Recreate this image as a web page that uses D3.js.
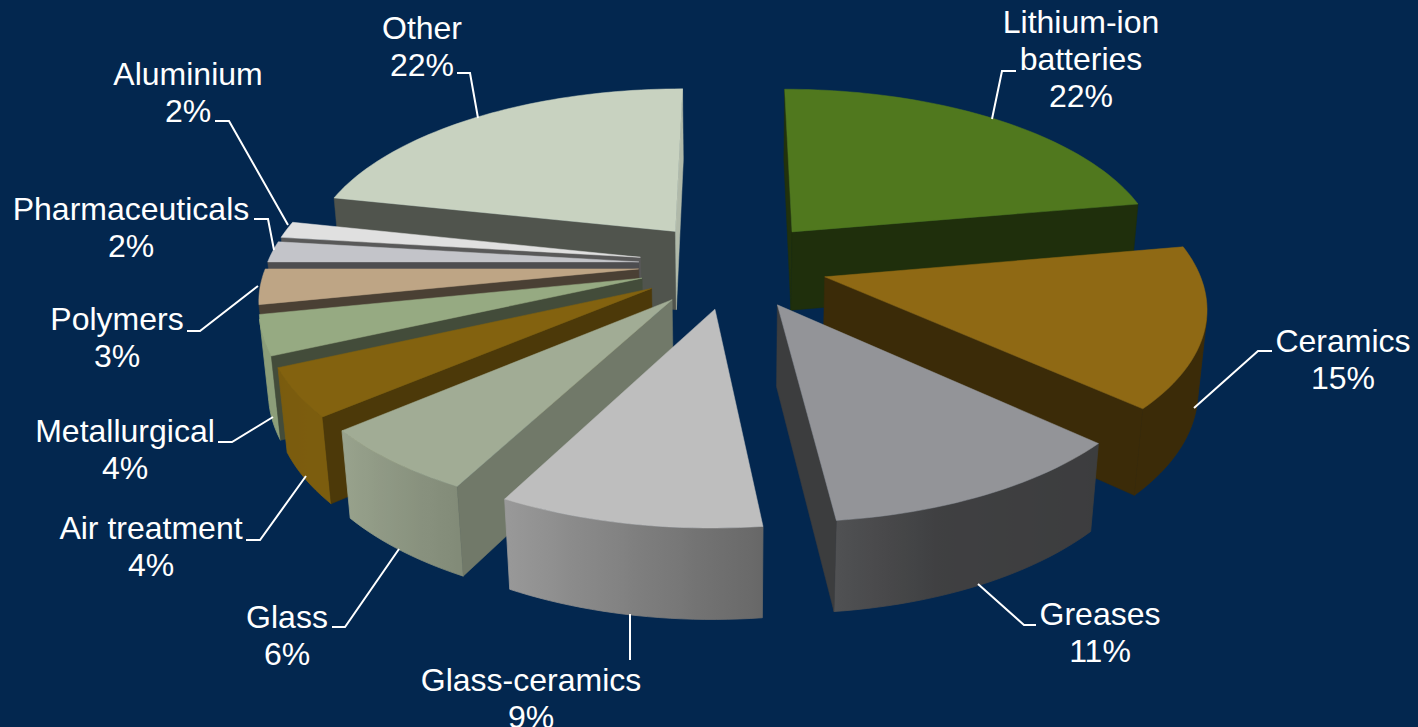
<!DOCTYPE html>
<html><head><meta charset="utf-8">
<script src="https://cdn.jsdelivr.net/npm/d3@7"></script>
<style>html,body{margin:0;padding:0;background:#03274f;overflow:hidden}svg{display:block}text{font-family:"Liberation Sans",Arial,sans-serif;fill:#fff}</style>
</head><body><svg id="c" width="1418" height="727"></svg>
<script>
const categories=["Lithium-ion batteries","Ceramics","Greases","Glass-ceramics","Glass","Air treatment","Metallurgical","Polymers","Pharmaceuticals","Aluminium","Other"];
const shares=[22.2,14.6,11.4,9.5,6.1,4.4,3.6,3.2,1.9,1.5,21.6];
const topColors=["#50781e","#8f6914","#939498","#bebebe","#a1ac95","#83620f","#96aa82","#bea585","#c3c4c9","#e0e0e0","#c8d2c0"];

// label layout: text lines with centre x / first-line y, and the leader polyline
const labelLayout=[
 {lines:["Lithium-ion","batteries","22%"],x:1081,y:22,leader:[[1016,71],[1002,71],[992,119]]},
 {lines:["Ceramics","15%"],x:1343,y:341,leader:[[1272,351],[1258,351],[1194,408]]},
 {lines:["Greases","11%"],x:1100,y:614,leader:[[1036,625],[1024,625],[978,584]]},
 {lines:["Glass-ceramics","9%"],x:531,y:680,leader:[[630,660],[630,614]]},
 {lines:["Glass","6%"],x:287,y:617,leader:[[332,627],[345,627],[399,549]]},
 {lines:["Air treatment","4%"],x:151,y:528,leader:[[246,540],[260,540],[306,476]]},
 {lines:["Metallurgical","4%"],x:125,y:431,leader:[[218,442],[232,442],[273,417]]},
 {lines:["Polymers","3%"],x:117,y:319,leader:[[187,331],[200,331],[258,286]]},
 {lines:["Pharmaceuticals","2%"],x:131,y:209,leader:[[254,219],[268,219],[274,250]]},
 {lines:["Aluminium","2%"],x:188,y:74,leader:[[215,121],[229,121],[288,225]]},
 {lines:["Other","22%"],x:422,y:28,leader:[[457,73],[470,73],[478,118]]}
];

// camera
const cx=733, cy=264.5, R=372, tilt=27.6*Math.PI/180, persp=0.165, thick=0.247, explode=0.254;
const sx=d3.scaleLinear().domain([0,1]).range([cx,cx+R]);
const sy=d3.scaleLinear().domain([0,1]).range([cy,cy+R]);
function project(p){ // p=[x,forward,z]
  const depth=p[1]*Math.cos(tilt)+p[2]*Math.sin(tilt);
  const s=1/(1-persp*depth);
  return [sx(p[0]*s), sy((p[1]*Math.sin(tilt)-p[2]*Math.cos(tilt))*s)];
}
// brightness of the curved wall by compass angle (deg), of flat cut faces by their normal
const wallShade=d3.scaleLinear().domain([79,133,160,173,208,230,246,300]).range([.41,.41,.43,.54,.81,.95,.93,.95]).clamp(true);
const faceShade=d3.scaleLinear().domain([90,118,140,156,168,223,270]).range([.88,.70,.58,.44,.39,.41,.41]).clamp(true);
const shade=(c,f)=>{const q=d3.rgb(c);return d3.rgb(q.r*f,q.g*f,q.b*f).formatHex();};

const arcs=d3.pie().sort(null).startAngle(0).endAngle(2*Math.PI)(shares);
const slices=arcs.map((a,i)=>{
  const mid=(a.startAngle+a.endAngle)/2;
  return {i,a0:a.startAngle,a1:a.endAngle,ox:explode*Math.sin(mid),oy:-explode*Math.cos(mid)};
}).sort((u,v)=>u.oy-v.oy);

const svg=d3.select("#c");
const defs=svg.append("defs");
const gSlices=svg.append("g");
const path=d3.line();
function poly(g,pts,fill){
  g.append("path").attr("d",path(pts)+"Z").attr("fill",fill).attr("stroke",fill).attr("stroke-width",.5).attr("stroke-linejoin","round");
}
const deg=x=>x*180/Math.PI;
slices.forEach(s=>{
  const g=gSlices.append("g").attr("class","slice").attr("data-name",categories[s.i]);
  const col=topColors[s.i];
  const pt=(ang,r,z)=>project([s.ox+r*Math.sin(ang),s.oy-r*Math.cos(ang),z]);
  const steps=Math.max(2,Math.ceil(deg(s.a1-s.a0)/1.5));
  const angs=d3.range(steps+1).map(k=>s.a0+(s.a1-s.a0)*k/steps);
  // curved wall: the camera-facing part, one polygon with a horizontal gradient
  const vis=[];
  for(let k=0;k<steps;k++){
    const q=[pt(angs[k],1,0),pt(angs[k+1],1,0),pt(angs[k+1],1,-thick),pt(angs[k],1,-thick)];
    if(d3.polygonArea(q)>0){ if(!vis.length||vis[vis.length-1]!==angs[k]) vis.push(angs[k]); vis.push(angs[k+1]); }
  }
  if(vis.length>1){
    const tops=vis.map(a=>pt(a,1,0)), bots=vis.map(a=>pt(a,1,-thick)).reverse();
    const xs=tops.map(p=>p[0]);
    const xa=d3.min(xs), xb=d3.max(xs);
    const id="wall"+s.i;
    const gr=defs.append("linearGradient").attr("id",id).attr("gradientUnits","userSpaceOnUse")
      .attr("x1",xa).attr("x2",xb).attr("y1",0).attr("y2",0);
    const stops=vis.map((a,k)=>({o:(xs[k]-xa)/(xb-xa||1),c:shade(col,wallShade(deg(a)))})).sort((u,v)=>u.o-v.o);
    stops.forEach(st=>gr.append("stop").attr("offset",st.o).attr("stop-color",st.c));
    g.append("path").attr("d",path(tops.concat(bots))+"Z").attr("fill",`url(#${id})`).attr("stroke",`url(#${id})`).attr("stroke-width",.8);
  }
  // cut faces
  const f0=[pt(0,0,0),pt(s.a0,1,0),pt(s.a0,1,-thick),pt(0,0,-thick)];
  const f1=[pt(s.a1,1,0),pt(0,0,0),pt(0,0,-thick),pt(s.a1,1,-thick)];
  if(d3.polygonArea(f0)>0) poly(g,f0,shade(col,faceShade((deg(s.a0)+270)%360)));
  if(d3.polygonArea(f1)>0) poly(g,f1,shade(col,faceShade((deg(s.a1)+90)%360)));
  // top
  poly(g,[pt(0,0,0),...angs.map(a=>pt(a,1,0))],col);
});

const gLabels=svg.append("g");
labelLayout.forEach(l=>{
  gLabels.append("path").attr("d",path(l.leader)).attr("fill","none").attr("stroke","#fff").attr("stroke-width",2);
  const t=gLabels.append("text").attr("text-anchor","middle").attr("font-size",32);
  l.lines.forEach((line,j)=>t.append("tspan").attr("x",l.x).attr("y",l.y+j*37).attr("dy","0.35em").text(line));
});
</script></body></html>
